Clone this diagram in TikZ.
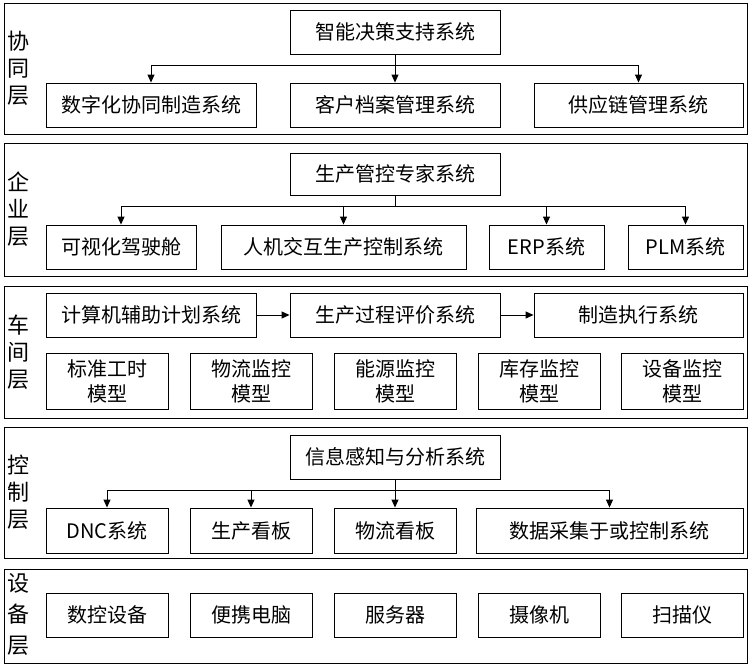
\documentclass[tikz,border=0pt]{standalone}
\usepackage{fontspec}
\setmainfont{Noto Sans CJK SC}
\usetikzlibrary{arrows.meta}

\begin{document}
\begin{tikzpicture}[x=1pt, y=-1pt,
        frame/.style={draw, line width=1pt, inner sep=0pt},
        box/.style={draw, line width=0.9pt, inner sep=0pt, align=center, font=\fontsize{20}{25}\selectfont},
        laylab/.style={align=center, font=\fontsize{22}{27}\selectfont},
        arr/.style={line width=0.9pt, -{Triangle[length=8pt, width=7pt]}}
    ]
    \useasboundingbox (0,0) rectangle (751,665);

    % layer frames
    \node[frame, minimum width=743pt, minimum height=131pt] (L1) at (375.5,68.5) {};
    \node[frame, minimum width=743pt, minimum height=133pt] (L2) at (375.5,209.5) {};
    \node[frame, minimum width=743pt, minimum height=132pt] (L3) at (375.5,352) {};
    \node[frame, minimum width=743pt, minimum height=131pt] (L4) at (375.5,492.5) {};
    \node[frame, minimum width=743pt, minimum height=94pt] (L5) at (375.5,616) {};

    \node[laylab] (L1lab) at (19,68.5) {协\\同\\层};
    \node[laylab] (L2lab) at (19,209.5) {企\\业\\层};
    \node[laylab] (L3lab) at (19,352) {车\\间\\层};
    \node[laylab] (L4lab) at (19,492.5) {控\\制\\层};
    \node[laylab, font=\fontsize{22}{31}\selectfont] (L5lab) at (19,614) {设\\备\\层};

    % xietong layer
    \node[box, minimum width=210pt, minimum height=44pt] (zc) at (395,32) {智能决策支持系统};
    \node[box, minimum width=210pt, minimum height=44pt] (szh) at (151,105) {数字化协同制造系统};
    \node[box, minimum width=210pt, minimum height=44pt] (kh) at (395,105) {客户档案管理系统};
    \node[box, minimum width=209pt, minimum height=44pt] (gyl) at (638.5,105) {供应链管理系统};

    \draw[arr] (zc.south) -- ++(0,11) -| (szh.north);
    \draw[arr] (zc.south) -- (kh.north);
    \draw[arr] (zc.south) -- ++(0,11) -| (gyl.north);

    % qiye layer
    \node[box, minimum width=210pt, minimum height=42pt] (gk) at (395,174) {生产管控专家系统};
    \node[box, minimum width=150pt, minimum height=44pt] (ks) at (121,247) {可视化驾驶舱};
    \node[box, minimum width=245pt, minimum height=44pt] (rj) at (343.5,247) {人机交互生产控制系统};
    \node[box, minimum width=115pt, minimum height=44pt] (erp) at (546.5,247) {ERP系统};
    \node[box, minimum width=115pt, minimum height=44pt] (plm) at (685.5,247) {PLM系统};

    \draw[arr] (gk.south) -- ++(0,11) -| (ks.north);
    \draw[arr] (gk.south) -- ++(0,11) -| (rj.north);
    \draw[arr] (gk.south) -- ++(0,11) -| (erp.north);
    \draw[arr] (gk.south) -- ++(0,11) -| (plm.north);

    % chejian layer
    \node[box, minimum width=210pt, minimum height=44pt] (jsj) at (151,315) {计算机辅助计划系统};
    \node[box, minimum width=210pt, minimum height=44pt] (scgc) at (395,315) {生产过程评价系统};
    \node[box, minimum width=209pt, minimum height=44pt] (zzzx) at (638.5,315) {制造执行系统};

    \draw[arr] (jsj) -- (scgc);
    \draw[arr] (scgc) -- (zzzx);

    \node[box, minimum width=122pt, minimum height=56pt] (bzgs) at (107,381) {标准工时\\模型};
    \node[box, minimum width=122pt, minimum height=56pt] (wljk) at (251,381) {物流监控\\模型};
    \node[box, minimum width=122pt, minimum height=56pt] (nyjk) at (395,381) {能源监控\\模型};
    \node[box, minimum width=122pt, minimum height=56pt] (kcjk) at (539,381) {库存监控\\模型};
    \node[box, minimum width=122pt, minimum height=56pt] (sbjk) at (682,381) {设备监控\\模型};

    % kongzhi layer
    \node[box, minimum width=210pt, minimum height=44pt] (xxgz) at (395,457) {信息感知与分析系统};
    \node[box, minimum width=122pt, minimum height=45pt] (dnc) at (107,530.5) {DNC系统};
    \node[box, minimum width=122pt, minimum height=45pt] (scbk) at (251,530.5) {生产看板};
    \node[box, minimum width=122pt, minimum height=45pt] (wlbk) at (395,530.5) {物流看板};
    \node[box, minimum width=267pt, minimum height=45pt] (sjcj) at (609.5,530.5) {数据采集于或控制系统};

    \draw[arr] (xxgz.south) -- ++(0,11) -| (dnc.north);
    \draw[arr] (xxgz.south) -- ++(0,11) -| (scbk.north);
    \draw[arr] (xxgz.south) -- (wlbk.north);
    \draw[arr] (xxgz.south) -- ++(0,11) -| (sjcj.north);

    % shebei layer
    \node[box, minimum width=122pt, minimum height=44pt] (skcb) at (107,615) {数控设备};
    \node[box, minimum width=122pt, minimum height=44pt] (bxdn) at (251,615) {便携电脑};
    \node[box, minimum width=122pt, minimum height=44pt] (fwq) at (395,615) {服务器};
    \node[box, minimum width=122pt, minimum height=44pt] (sxj) at (539,615) {摄像机};
    \node[box, minimum width=122pt, minimum height=44pt] (smy) at (682,615) {扫描仪};

\end{tikzpicture}
\end{document}
